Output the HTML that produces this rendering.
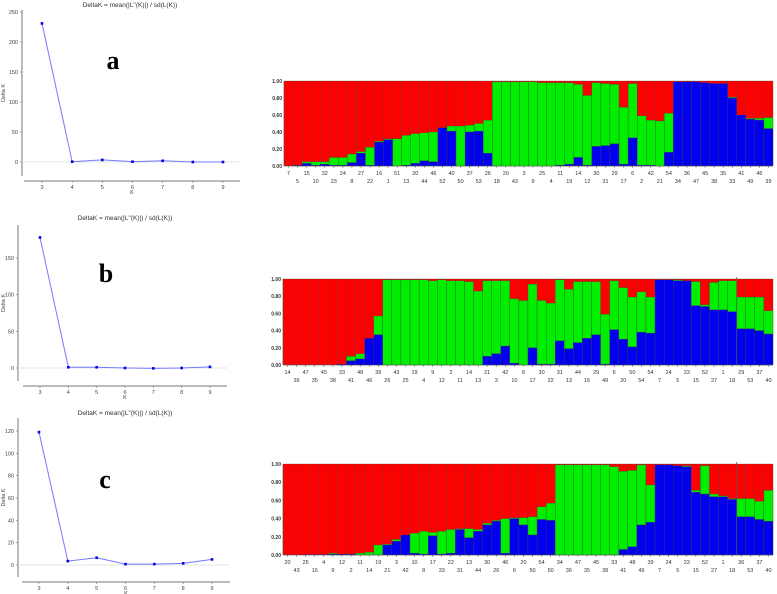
<!DOCTYPE html>
<html><head><meta charset="utf-8"><style>
body{margin:0;background:#fff;width:777px;height:594px;overflow:hidden;font-family:"Liberation Sans",sans-serif}
svg{position:absolute;left:0;top:0}
</style></head><body>
<svg id="s" width="777" height="594"></svg>
<script>
const kVals=[3,4,5,6,7,8,9];
const deltaA=[231,0.5,3.5,0.5,2,0,0];
const deltaB=[178,1,1,0,-0.5,0,1.5];
const deltaC=[119,3.5,6.5,0.8,0.8,1.5,5];
const ticksA=[0,50,100,150,200,250];
const ticksB=[0,50,100,150];
const ticksC=[0,20,40,60,80,100,120];
const aBlue=[0,0.01,0.03,0.01,0.02,0.01,0.01,0.04,0.15,0.01,0.28,0.31,0,0.01,0.03,0.06,0.05,0.45,0.41,0,0.4,0.41,0.15,0,0,0,0,0,0,0,0.01,0.02,0.1,0.01,0.23,0.24,0.26,0.02,0.33,0.01,0.01,0,0.16,0.99,0.99,0.99,0.98,0.97,0.97,0.8,0.6,0.55,0.54,0.44];
const aGreen=[0,0,0.02,0.04,0.03,0.09,0.09,0.1,0.02,0.21,0.01,0.01,0.32,0.35,0.35,0.33,0.35,0,0.06,0.47,0.08,0.09,0.39,0.99,0.99,0.99,0.99,0.99,0.98,0.98,0.97,0.96,0.86,0.82,0.75,0.73,0.7,0.67,0.64,0.58,0.53,0.53,0.46,0,0,0,0,0,0,0.01,0,0.01,0.02,0.13];
const aLabels=[7,5,15,10,32,23,24,8,27,22,16,1,51,13,20,44,46,52,40,50,37,53,26,18,20,43,3,9,25,4,11,19,14,12,30,31,29,17,6,2,42,21,54,34,36,47,45,38,35,33,41,49,46,39];
const bBlue=[0,0,0,0,0,0,0.01,0.05,0.07,0.31,0.35,0,0,0,0,0,0,0,0,0,0,0,0.1,0.13,0.22,0.02,0,0.2,0.01,0.01,0.28,0.19,0.26,0.31,0.35,0.01,0.41,0.3,0.21,0.38,0.37,0.99,0.99,0.98,0.98,0.69,0.68,0.64,0.64,0.62,0.42,0.42,0.4,0.36];
const bGreen=[0,0,0,0,0,0,0,0.05,0.06,0,0.22,0.99,0.99,0.99,0.99,0.99,0.98,0.99,0.98,0.98,0.97,0.86,0.88,0.85,0.76,0.75,0.75,0.74,0.74,0.71,0.71,0.69,0.71,0.66,0.62,0.58,0.57,0.6,0.58,0.47,0.42,0,0,0.01,0,0.28,0.02,0.32,0.34,0.36,0.37,0.37,0.39,0.27];
const bLabels=[14,36,47,35,45,38,33,41,48,46,39,26,43,25,19,4,9,12,2,11,14,13,21,3,42,10,8,17,30,22,31,13,44,16,29,49,6,20,50,54,54,7,24,5,23,15,52,27,1,18,29,53,37,40];
const cBlue=[0,0,0.005,0.005,0.005,0.01,0.01,0.01,0,0,0,0.11,0.15,0.22,0.02,0.01,0.21,0.01,0.02,0.28,0.19,0.26,0.33,0.37,0.02,0.4,0.33,0.22,0.39,0.38,0,0,0,0,0,0,0,0.06,0.09,0.33,0.36,0.99,0.99,0.98,0.97,0.69,0.67,0.64,0.64,0.61,0.42,0.42,0.39,0.37];
const cGreen=[0,0,0,0,0,0.01,0,0,0.02,0.03,0.11,0.01,0.02,0,0.22,0.25,0.04,0.25,0.26,0.01,0.1,0.02,0.02,0.01,0.38,0.01,0.08,0.2,0.14,0.19,0.99,0.99,0.99,0.99,0.99,0.99,0.97,0.86,0.84,0.66,0.41,0,0,0,0.01,0.02,0.31,0.03,0.01,0.01,0.2,0.2,0.2,0.34];
const cLabels=[20,43,25,16,4,9,12,2,11,14,19,21,3,42,10,8,17,33,22,31,13,44,30,26,46,6,20,50,54,50,34,36,47,35,45,38,33,41,48,49,39,7,24,5,23,15,52,27,1,18,36,53,37,40];
const yTicksBar=[0,0.2,0.4,0.6,0.8,1.0];

const NS='http://www.w3.org/2000/svg';
const svg=document.getElementById('s');
function mk(tag,attrs,parent){const e=document.createElementNS(NS,tag);for(const k in attrs)e.setAttribute(k,attrs[k]);(parent||svg).appendChild(e);return e;}
function txt(x,y,s,attrs,parent){const t=mk('text',Object.assign({x:x,y:y},attrs),parent);t.textContent=s;return t;}

function lineChart(cfg,vals,ticks,letter,name){
  const g=mk('g',{});
  
  
  const ys=v=>cfg.y0-(v/cfg.vRef)*(cfg.y0-cfg.yRef);
  const xs=k=>cfg.x3+(k-3)*(cfg.x9-cfg.x3)/6;
  const t=txt(cfg.tx,cfg.ty,'DeltaK = mean(|L\'\'(K)|) / sd(L(K))',{'font-size':'6.5','text-anchor':'middle',fill:'#333'},g);
  
  mk('line',{x1:cfg.ax,y1:cfg.atop,x2:cfg.ax,y2:cfg.abot,stroke:'#777','stroke-width':1},g);
  mk('line',{x1:cfg.sx1,y1:cfg.sy,x2:cfg.sx2,y2:cfg.sy,stroke:'#777','stroke-width':1},g);
  mk('line',{x1:cfg.ax,y1:ys(0),x2:cfg.sx2,y2:ys(0),stroke:'#ddd','stroke-width':0.8},g);
  ticks.forEach(v=>{const y=ys(v);mk('line',{x1:cfg.ax-2,y1:y,x2:cfg.ax,y2:y,stroke:'#777','stroke-width':0.6},g);
    const l=txt(cfg.ax-4,y+2,String(v),{'font-size':'5.5','text-anchor':'end',fill:'#444'},g);
    });
  kVals.forEach(k=>{const x=xs(k);mk('line',{x1:x,y1:cfg.sy,x2:x,y2:cfg.sy+2,stroke:'#777','stroke-width':0.6},g);
    const l=txt(x,cfg.sy+8,String(k),{'font-size':'5.5','text-anchor':'middle',fill:'#444'},g);
    });
  const xl=txt((cfg.sx1+cfg.sx2)/2,cfg.sy+13,'K',{'font-size':'5.5','text-anchor':'middle',fill:'#444'},g);
  
  const ym=(cfg.atop+cfg.abot)/2;
  const yl=txt(5,ym,'Delta K',{'font-size':'5.5','text-anchor':'middle',fill:'#444',transform:'rotate(-90 5 '+ym+')'},g);
  
  const pts=vals.map((v,i)=>xs(kVals[i])+','+ys(v)).join(' ');
  const pl=mk('polyline',{points:pts,fill:'none',stroke:'#7777ff','stroke-width':1},g);
  
  vals.forEach((v,i)=>{const c=mk('rect',{x:xs(kVals[i])-1.3,y:ys(v)-1.3,width:2.6,height:2.6,fill:'#0000ee'},g);
    });
  const L=txt(cfg.lx,cfg.ly,letter,{'font-size':'26','font-weight':'bold','font-family':'Liberation Serif, serif','text-anchor':'middle',fill:'#000'},g);
  
}
lineChart({tx:130,ty:7,ax:22,atop:10,abot:176,sx1:24,sx2:240,sy:181,x3:42,x9:223,y0:162,yRef:12,vRef:250,lx:113,ly:69},deltaA,ticksA,'a','delta-k-chart-a');
lineChart({tx:125,ty:220,ax:18,atop:225,abot:381,sx1:23,sx2:227,sy:386,x3:40,x9:210,y0:368,yRef:258,vRef:150,lx:106,ly:282},deltaB,ticksB,'b','delta-k-chart-b');
lineChart({tx:125,ty:415,ax:18,atop:418,abot:577,sx1:22,sx2:230,sy:582,x3:39,x9:212,y0:565,yRef:431,vRef:120,lx:105,ly:488},deltaC,ticksC,'c','delta-k-chart-c');

function barChart(cfg,blue,green,labels,name){
  const g=mk('g',{});
  
  
  const n=blue.length, w=(cfg.x2-cfg.x1)/n, h=cfg.y0-cfg.y1;
  const ys=v=>cfg.y0-v*h;
  for(let i=0;i<n;i++){
    const x=cfg.x1+i*w;
    const r=mk('rect',{x:x,y:cfg.y1,width:w,height:h,fill:'#ff0000',stroke:'#444','stroke-width':0.3},g);
    
    const gr=mk('rect',{x:x,y:ys(blue[i]+green[i]),width:w,height:green[i]*h,fill:'#00ee00',stroke:'#444','stroke-width':green[i]>0.005?0.3:0},g);
    
    const b=mk('rect',{x:x,y:ys(blue[i]),width:w,height:blue[i]*h,fill:'#0000ee',stroke:'#444','stroke-width':blue[i]>0.005?0.3:0},g);
    
    mk('line',{x1:x+w/2,y1:cfg.y0,x2:x+w/2,y2:cfg.y0+2,stroke:'#555','stroke-width':0.5},g);
    const l=txt(x+w/2,cfg.y0+(i%2===0?9:17),String(labels[i]),{'font-size':'5.5','text-anchor':'middle',fill:'#333'},g);
    
  }
  mk('line',{x1:cfg.x1,y1:cfg.y1,x2:cfg.x1,y2:cfg.y0,stroke:'#555','stroke-width':0.6},g);
  mk('line',{x1:cfg.x1,y1:cfg.y0,x2:cfg.x2,y2:cfg.y0,stroke:'#555','stroke-width':0.6},g);
  if(cfg.sep){const sx=cfg.x1+cfg.sep*w;mk('line',{x1:sx,y1:cfg.y1-2,x2:sx,y2:cfg.y0,stroke:'#555','stroke-width':0.8},g);}
  yTicksBar.forEach(v=>{const y=ys(v);
    const l=txt(cfg.x1-2,y+2,v.toFixed(2),{'font-size':'5','text-anchor':'end',fill:'#333','font-weight':'bold'},g);
    });
}
barChart({x1:284,x2:773,y1:81,y0:166},aBlue,aGreen,aLabels,'structure-plot-a');
barChart({x1:283,x2:773,y1:279,y0:365,sep:50},bBlue,bGreen,bLabels,'structure-plot-b');
barChart({x1:283,x2:773,y1:464,y0:555,sep:50},cBlue,cGreen,cLabels,'structure-plot-c');
</script>
</body></html>
